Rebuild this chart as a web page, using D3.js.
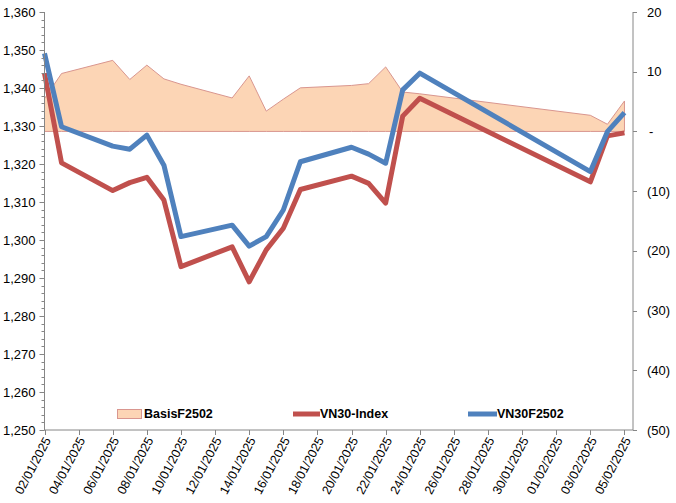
<!DOCTYPE html>
<html>
<head>
<meta charset="utf-8">
<script src="https://cdn.jsdelivr.net/npm/d3@7"></script>
<style>
  body { margin: 0; background: #fff; }
  text { font-family: Arial, 'Liberation Sans', sans-serif; fill: #000; }
  .legend-text { font-weight: bold; font-size: 12.5px; }
</style>
</head>
<body>
<div id="chart"></div>
<script>
var width = 676;
var height = 503;

// trading days
var dates = ['02/01/2025', '03/01/2025', '06/01/2025', '07/01/2025', '08/01/2025',
  '09/01/2025', '10/01/2025', '13/01/2025', '14/01/2025', '15/01/2025',
  '16/01/2025', '17/01/2025', '20/01/2025', '21/01/2025', '22/01/2025',
  '23/01/2025', '24/01/2025', '03/02/2025', '04/02/2025', '05/02/2025'];

var vn30Index = [1343.9, 1320.3, 1313.0, 1315.1, 1316.5, 1310.5, 1293.0, 1298.2, 1289.0, 1297.4,
  1303.1, 1313.3, 1316.8, 1314.9, 1309.7, 1332.6, 1337.3, 1315.3, 1327.4, 1328.2];

var vn30f2502 = [1349.1, 1329.8, 1324.7, 1323.9, 1327.6, 1319.7, 1300.9, 1303.9, 1298.4, 1300.9,
  1307.9, 1320.6, 1324.4, 1322.6, 1320.2, 1339.5, 1343.9, 1318.0, 1328.5, 1333.5];

var basisF2502 = [5.5, 9.7, 11.9, 8.7, 11.1, 8.8, 7.9, 5.6, 9.3, 3.4,
  5.4, 7.3, 7.7, 8.0, 10.8, 6.6, 6.3, 2.7, 1.2, 5.1];

var leftTicks = [1250, 1260, 1270, 1280, 1290, 1300, 1310, 1320, 1330, 1340, 1350, 1360];
var rightTicks = [-50, -40, -30, -20, -10, 0, 10, 20];

var seriesNames = ['BasisF2502', 'VN30-Index', 'VN30F2502'];

var parse = d3.timeParse('%d/%m/%Y');
var fmtDate = d3.timeFormat('%d/%m/%Y');
var days = dates.map(parse);

var plotLeft = 44.5, plotRight = 633, plotTop = 12, plotBottom = 430;
var axisColor = '#868686';
var blue = '#4f81bd', red = '#c0504d';
var areaFill = '#fcd5b5', areaStroke = '#d9968f';

var firstDay = days[0];
var lastDay = days[days.length - 1];
var endDomain = d3.timeHour.offset(lastDay, 12);

var x = d3.scaleTime().domain([firstDay, endDomain]).range([plotLeft, plotRight]);
var yL = d3.scaleLinear().domain([1250, 1360]).range([plotBottom, plotTop]);
var yR = d3.scaleLinear().domain([-50, 20]).range([plotBottom, plotTop]);

var svg = d3.select('#chart').append('svg')
  .attr('width', width)
  .attr('height', height);

// basis area
var area = d3.area()
  .x(function(d, i) { return x(days[i]); })
  .y0(yR(0))
  .y1(function(d) { return yR(d); });

svg.append('path')
  .datum(basisF2502)
  .attr('d', area)
  .attr('fill', areaFill)
  .attr('stroke', areaStroke)
  .attr('stroke-width', 1);

var line = d3.line()
  .x(function(d, i) { return x(days[i]); })
  .y(function(d) { return yL(d); });

svg.append('path')
  .datum(vn30Index)
  .attr('d', line)
  .attr('fill', 'none')
  .attr('stroke', red)
  .attr('stroke-width', 5)
  .attr('stroke-linejoin', 'round');

svg.append('path')
  .datum(vn30f2502)
  .attr('d', line)
  .attr('fill', 'none')
  .attr('stroke', blue)
  .attr('stroke-width', 5)
  .attr('stroke-linejoin', 'round');

// left axis
var minorTicks = d3.range(1250, 1361, 2);
var gL = svg.append('g').attr('transform', 'translate(' + plotLeft + ',0)');
gL.append('line').attr('y1', plotTop).attr('y2', plotBottom).attr('stroke', axisColor);
gL.selectAll('.minor').data(minorTicks).enter().append('line')
  .attr('x1', -3).attr('x2', 0)
  .attr('y1', function(d) { return Math.round(yL(d)) + 0.5; })
  .attr('y2', function(d) { return Math.round(yL(d)) + 0.5; })
  .attr('stroke', axisColor);
gL.selectAll('.major').data(leftTicks).enter().append('line')
  .attr('x1', -5).attr('x2', 0)
  .attr('y1', function(d) { return Math.round(yL(d)) + 0.5; })
  .attr('y2', function(d) { return Math.round(yL(d)) + 0.5; })
  .attr('stroke', axisColor);
gL.selectAll('.lab').data(leftTicks).enter().append('text')
  .attr('x', -9)
  .attr('y', function(d) { return yL(d); })
  .attr('dy', '0.35em')
  .attr('text-anchor', 'end')
  .style('font-size', '13px')
  .text(d3.format(','));

// right axis
function acct(d) {
  if (d === 0) return '-';
  return d < 0 ? '(' + Math.abs(d) + ')' : String(d);
}
var gR = svg.append('g').attr('transform', 'translate(' + plotRight + ',0)');
gR.append('line').attr('y1', plotTop).attr('y2', plotBottom).attr('stroke', axisColor);
gR.selectAll('.major').data(rightTicks).enter().append('line')
  .attr('x1', 0).attr('x2', 4)
  .attr('y1', function(d) { return Math.round(yR(d)) + 0.5; })
  .attr('y2', function(d) { return Math.round(yR(d)) + 0.5; })
  .attr('stroke', axisColor);
gR.selectAll('.lab').data(rightTicks).enter().append('text')
  .attr('x', function(d) { return d === 0 ? 16 : 14; })
  .attr('y', function(d) { return yR(d); })
  .attr('dy', '0.35em')
  .style('font-size', '13px')
  .text(acct);

// x axis
var xTicks = d3.timeDay.range(firstDay, d3.timeDay.offset(lastDay, 1), 2);
var gX = svg.append('g').attr('transform', 'translate(0,' + plotBottom + ')');
gX.append('line').attr('x1', plotLeft).attr('x2', plotRight).attr('stroke', axisColor);
gX.selectAll('.tick').data(xTicks).enter().append('line')
  .attr('x1', function(d) { return Math.round(x(d)) + 0.5; })
  .attr('x2', function(d) { return Math.round(x(d)) + 0.5; })
  .attr('y1', 0).attr('y2', 5)
  .attr('stroke', axisColor);
gX.selectAll('.lab').data(xTicks).enter().append('text')
  .attr('transform', function(d) { return 'translate(' + (x(d) + 3) + ',8) rotate(-62)'; })
  .attr('text-anchor', 'end')
  .attr('dy', '0.35em')
  .style('font-size', '12.5px')
  .text(fmtDate);

// legend
var lg = svg.append('g').attr('class', 'legend');
lg.append('rect')
  .attr('x', 117.5).attr('y', 409.5).attr('width', 24).attr('height', 9)
  .attr('fill', areaFill).attr('stroke', areaStroke);
lg.append('text').attr('class', 'legend-text').attr('x', 144).attr('y', 414).attr('dy', '0.35em').text(seriesNames[0]);
lg.append('line').attr('x1', 293).attr('x2', 320).attr('y1', 414).attr('y2', 414)
  .attr('stroke', red).attr('stroke-width', 5);
lg.append('text').attr('class', 'legend-text').attr('x', 320).attr('y', 414).attr('dy', '0.35em').text(seriesNames[1]);
lg.append('line').attr('x1', 468).attr('x2', 497).attr('y1', 414).attr('y2', 414)
  .attr('stroke', blue).attr('stroke-width', 5);
lg.append('text').attr('class', 'legend-text').attr('x', 497).attr('y', 414).attr('dy', '0.35em').text(seriesNames[2]);
</script>
</body>
</html>
